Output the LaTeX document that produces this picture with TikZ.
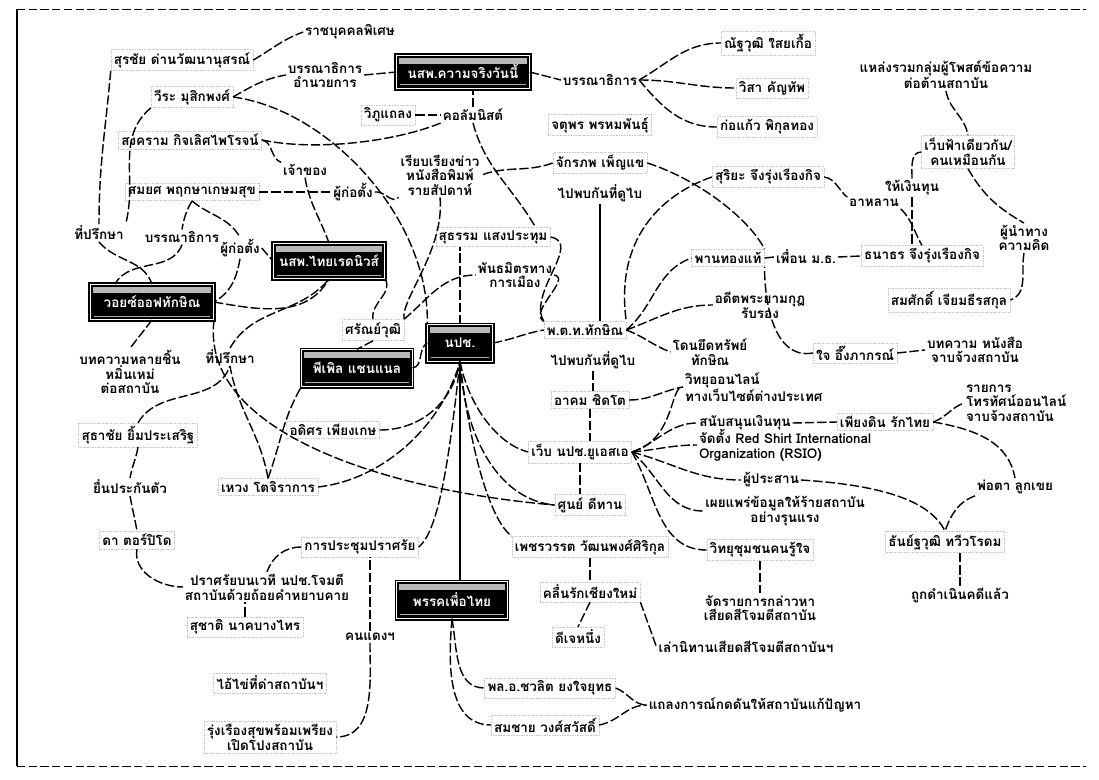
\documentclass[tikz,border=0pt]{standalone}
\usepackage{fontspec}
\setmainfont[Script=Thai]{Loma}
\usetikzlibrary{calc}
\newcommand{\thfont}{\fontsize{11.5pt}{12.5pt}\selectfont\bfseries}
\tikzstyle{person} = [draw=gray!45, densely dotted, inner sep=2.5pt,
    font=\thfont, align=center]
\tikzstyle{rel} = [inner sep=1.5pt, font=\thfont, align=center]
\tikzstyle{media} = [fill=black, text=white, draw=white, line width=0.9pt,
    font=\thfont, inner sep=2pt, text depth=1pt, preaction={draw=black, line width=4pt},
    path picture={\fill[gray!55] ([shift={(2pt,-2pt)}]path picture bounding box.north west)
      rectangle ([shift={(-2pt,-7pt)}]path picture bounding box.north east);
      \draw[gray!60, line width=0.8pt] ([shift={(3pt,3pt)}]path picture bounding box.south west)
      -- ([shift={(-3pt,3pt)}]path picture bounding box.south east);}]
\tikzstyle{line} = [draw, line width=1.2pt, dash pattern=on 8pt off 2.5pt]
\tikzstyle{sline} = [draw, line width=1.2pt]

\begin{document}
\begin{tikzpicture}[x=0.03cm, y=0.03cm]
  \useasboundingbox (0,0) rectangle (1099,-779);
  % frame
  \draw[line width=0.7pt, dash pattern=on 7pt off 3pt] (17,-9) -- (1086,-9);
  \draw[line width=0.9pt] (17,-9) -- (17,-766);
  \draw[line width=0.7pt, dash pattern=on 7pt off 3pt] (17,-766) -- (1086,-766);

  % Place nodes
  \node [media, minimum width=113pt, minimum height=28pt] (kwamjing) at (463,-72) {นสพ.ความจริงวันนี้};
  \node [media, minimum width=95pt, minimum height=30pt] (rednews) at (329,-261) {นสพ.ไทยเรดนิวส์};
  \node [media, minimum width=105pt, minimum height=30pt] (voice) at (152,-302) {วอยซ์ออฟทักษิณ};
  \node [media, minimum width=94pt, minimum height=31pt] (people) at (357,-368) {พีเพิล แชนแนล};
  \node [media, minimum width=55pt, minimum height=31pt] (udd) at (460,-343) {นปช.};
  \node [media, minimum width=94pt, minimum height=31pt] (pheu) at (452,-600) {พรรคเพื่อไทย};

  % left side
  \node [person] (surachai) at (182,-60) {สุรชัย ด่านวัฒนานุสรณ์};
  \node [person] (veera) at (192,-97) {วีระ มุสิกพงศ์};
  \node [person] (songkram) at (190,-140) {สงคราม กิจเลิศไพโรจน์};
  \node [person] (somyot) at (192,-192) {สมยศ พฤกษาเกษมสุข};
  \node [rel] (advisor1) at (99,-233) {ที่ปรึกษา};
  \node [rel] (editor2) at (182,-237) {บรรณาธิการ};
  \node [rel] (founder2) at (240,-248) {ผู้ก่อตั้ง};
  \node [rel] (articles) at (130,-372) {บทความหลายชิ้น\\หมิ่นเหม่\\ต่อสถาบัน};
  \node [rel] (advisor2) at (230,-357) {ที่ปรึกษา};
  \node [person] (suthachai) at (138,-435) {สุธาชัย ยิ้มประเสริฐ};
  \node [rel] (bail) at (130,-487) {ยื่นประกันตัว};
  \node [person] (da) at (137,-540) {ดา ตอร์ปิโด};
  \node [person] (weng) at (268,-487) {เหวง โตจิราการ};
  \node [person] (adisorn) at (333,-430) {อดิศร เพียงเกษ};
  \node [person] (pichai) at (373,-330) {ศรัณย์วุฒิ};

  % top
  \node [rel] (ratcha) at (350,-32) {ราชบุคคลพิเศษ};
  \node [rel] (chief) at (325,-75) {บรรณาธิการ\\อำนวยการ};
  \node [person] (vipu) at (388,-115) {วิภูแถลง};
  \node [rel] (columnist) at (473,-115) {คอลัมนิสต์};
  \node [rel] (owner) at (305,-170) {เจ้าของ};
  \node [rel] (founder1) at (353,-192) {ผู้ก่อตั้ง};
  \node [rel] (rewrite) at (440,-175) {เรียบเรียงข่าว\\หนังสือพิมพ์\\รายสัปดาห์};
  \node [person] (sutham) at (493,-237) {สุธรรม แสงประทุม};
  \node [rel] (ally) at (515,-275) {พันธมิตรทาง\\การเมือง};
  \node [rel] (editor) at (600,-80) {บรรณาธิการ};
  \node [person] (nattawut) at (768,-43) {ณัฐวุฒิ ใสยเกื้อ};
  \node [person] (wisa) at (772,-88) {วิสา คัญทัพ};
  \node [person] (korkaew) at (767,-127) {ก่อแก้ว พิกุลทอง};
  \node [person] (jatuporn) at (600,-125) {จตุพร พรหมพันธุ์};
  \node [person] (jakrapob) at (600,-163) {จักรภพ เพ็ญแข};
  \node [rel] (dubai1) at (600,-193) {ไปพบกันที่ดูไบ};
  \node [person] (suriya) at (768,-177) {สุริยะ จึงรุ่งเรืองกิจ};

  % top right
  \node [rel] (rcb) at (946,-75) {แหล่งรวมกลุ่มผู้โพสต์ข้อความ\\ต่อต้านสถาบัน};
  \node [person] (fa) at (968,-152) {เว็บฟ้าเดียวกัน/\\คนเหมือนกัน};
  \node [rel] (fund) at (912,-188) {ให้เงินทุน};
  \node [rel] (unclenephew) at (874,-203) {อาหลาน};
  \node [rel] (thinker) at (1024,-238) {ผู้นำทาง\\ความคิด};
  \node [person] (thanathorn) at (922,-256) {ธนาธร จึงรุ่งเรืองกิจ};
  \node [rel] (friend) at (806,-257) {เพื่อน ม.ธ.};
  \node [person] (panthongtae) at (728,-258) {พานทองแท้};
  \node [rel] (certify) at (760,-305) {อดีตพระยามกุฎ\\รับรอง};
  \node [rel] (seized) at (710,-352) {โดนยึดทรัพย์\\ทักษิณ};
  \node [person] (somsak) at (949,-300) {สมศักดิ์ เจียมธีรสกุล};

  % middle
  \node [person] (thaksin) at (585,-330) {พ.ต.ท.ทักษิณ};
  \node [rel] (dubai2) at (593,-360) {ไปพบกันที่ดูไบ};
  \node [person] (akom) at (590,-400) {อาคม ชิดโต};
  \node [rel, anchor=west, align=left] (online) at (683,-387) {วิทยุออนไลน์\\ทางเว็บไซต์ต่างประเทศ};
  \node [person] (jai) at (855,-353) {ใจ อึ๊งภากรณ์};
  \node [rel] (article) at (975,-350) {บทความ หนังสือ\\จาบจ้วงสถาบัน};
  \node [person] (ten) at (580,-452) {เว็บ นปช.ยูเอสเอ};
  \node [rel] (support) at (745,-423) {สนับสนุนเงินทุน};
  \node [rel, anchor=west, align=left] (rsio) at (697,-445) {จัดตั้ง Red Shirt International\\Organization (RSIO)};
  \node [rel] (coord) at (771,-480) {ผู้ประสาน};
  \node [rel] (spread) at (785,-511) {เผยแพร่ข้อมูลให้ร้ายสถาบัน\\อย่างรุนแรง};
  \node [person] (kasem) at (885,-422) {เพียงดิน รักไทย};
  \node [rel, anchor=west, align=left] (tvonline) at (964,-403) {รายการ\\โทรทัศน์ออนไลน์\\จาบจ้วงสถาบัน};
  \node [rel] (inlaw) at (1015,-487) {พ่อตา ลูกเขย};
  \node [person] (brperson) at (945,-542) {ธันย์ฐวุฒิ ทวีวโรดม};
  \node [rel] (convicted) at (960,-595) {ถูกดำเนินคดีแล้ว};
  \node [person] (sunai) at (590,-505) {ศูนย์ ดีทาน};
  \node [person] (radiocomm) at (760,-550) {วิทยุชุมชนคนรู้ใจ};
  \node [rel] (program) at (760,-608) {จัดรายการกล่าวหา\\เสียดสีโจมตีสถาบัน};

  % bottom
  \node [person] (yaowa) at (590,-547) {เพชรวรรต วัฒนพงศ์ศิริกุล};
  \node [person] (klun) at (590,-592) {คลื่นรักเชียงใหม่};
  \node [person] (dj) at (578,-637) {ดีเจหนึ่ง};
  \node [rel] (fable) at (746,-647) {เล่านิทานเสียดสีโจมตีสถาบันฯ};
  \node [person] (chavalit) at (550,-688) {พล.อ.ชวลิต ยงใจยุทธ};
  \node [person] (somchai) at (545,-725) {สมชาย วงศ์สวัสดิ์};
  \node [rel] (statement) at (755,-705) {แถลงการณ์กดดันให้สถาบันแก้ปัญหา};
  \node [person] (rally) at (360,-547) {การประชุมปราศรัย};
  \node [rel] (speech) at (267,-587) {ปราศรัยบนเวที นปช.โจมตี\\สถาบันด้วยถ้อยคำหยาบคาย};
  \node [person] (suchart) at (245,-627) {สุชาติ นาคบางไทร};
  \node [rel] (daeng) at (370,-637) {คนแดงฯ};
  \node [person] (n34) at (270,-683) {ไอ้ไข่ที่ด่าสถาบันฯ};
  \node [person] (n35) at (270,-737) {รุ่งเรืองสุขพร้อมเพรียง\\เปิดโปงสถาบัน};

  % connectors, left
  \path [line] (surachai.east) to[out=30,in=200] (ratcha.west);
  \path [line] (surachai.south west) to[out=-95,in=90] (advisor1.north);
  \path [line] (veera.south west) to[out=220,in=75] (advisor1.north east);
  \path [line] (veera.east) to[out=30,in=190] (chief.west);
  \path [line] (veera.east) .. controls (330,-110) and (430,-220) .. (udd.north west);
  \path [line] (songkram.east) to[out=-10,in=160] (owner.north west);
  \path [line] (songkram.east) .. controls (320,-152) and (400,-140) .. (columnist.south west);
  \path [line] (somyot.east) -- (founder1.west);
  \path [line] (somyot.south) to[out=-120,in=80] (editor2.north);
  \path [line] (somyot.south) to[out=-40,in=120] (founder2.north);
  \path [line] (advisor1.south) to[out=-50,in=110] (voice.north);
  \path [line] (editor2.south) to[out=-110,in=60] ($(voice.north west)+(25,0)$);
  \path [line] (founder2.east) -- (rednews.west);
  \path [line] (founder2.south) to[out=-100,in=30] (voice.east);
  \path [line] (voice.east) to[out=-10,in=-120] (rednews.south);
  \path [line] (advisor2.north) to[out=60,in=-130] (rednews.south);
  \path [line] (voice.south) -- (articles.north);
  \path [line] (voice.south east) .. controls (200,-430) and (380,-490) .. (sunai.west);
  \path [line] (suthachai.north) to[out=60,in=-110] (advisor2.south);
  \path [line] (weng.north) to[out=100,in=-80] (advisor2.south);
  \path [line] (weng.north) to[out=70,in=-120] (people.south west);
  \path [line] (weng.east) .. controls (380,-480) and (440,-430) .. (udd.south);
  \path [line] (adisorn.east) to[out=0,in=-100] (udd.south);
  \path [line] (suthachai.south) to[out=-100,in=80] (bail.north);
  \path [line] (bail.south) to[out=-80,in=100] (da.north);

  % connectors, top
  \path [line] (chief.east) -- (kwamjing.west);
  \path [line] (kwamjing.east) -- (editor.west);
  \path [line] (editor.east) to[out=30,in=180] (nattawut.west);
  \path [line] (editor.east) to[out=0,in=180] (wisa.west);
  \path [line] (editor.east) to[out=-50,in=180] (korkaew.west);
  \path [line] (columnist.north) -- (columnist.north |- kwamjing.south);
  \path [line] (vipu.east) -- (columnist.west);
  \path [line] (owner.south) to[out=-80,in=110] (rednews.north);
  \path [line] (founder1.east) to[out=10,in=230] (rewrite.south west);
  \path [line] (rewrite.south) .. controls (445,-250) and (400,-300) .. (pichai.north east);
  \path [line] (rednews.south east) to[out=-60,in=100] (pichai.north);
  \path [line] (pichai.south) -- (people.north);
  \path [line] (pichai.north east) to[out=40,in=180] (ally.west);
  \path [line] (people.east) to[out=10,in=-150] (udd.west);
  \path [line] (udd.north) -- (udd.north |- sutham.south);
  \path [line] (columnist.south) to[out=-75,in=120] ($(sutham.north east)+(-15,0)$);
  \path [line] (jakrapob.west) to[out=200,in=20] (rewrite.east);
  \path [line] (ally.east) to[out=-10,in=150] (thaksin.north west);
  \path [line] (sutham.east) to[out=-10,in=120] (thaksin.north west);
  \path [sline] (dubai1.south) -- (dubai1.south |- thaksin.north);
  \path [line] (jakrapob.east) .. controls (700,-180) and (750,-220) .. (panthongtae.north east);
  \path [line] (suriya.west) .. controls (660,-195) and (615,-240) .. (thaksin.north east);
  \path [line] (udd.east) to[out=10,in=190] (thaksin.west);

  % connectors, right
  \path [line] (thaksin.east) to[out=40,in=200] (panthongtae.west);
  \path [line] (thaksin.east) to[out=20,in=180] (certify.west);
  \path [line] (thaksin.east) to[out=-20,in=160] (seized.west);
  \path [line] (panthongtae.east) -- (friend.west);
  \path [line] (friend.east) -- (thanathorn.west);
  \path [line] (suriya.east) to[out=-10,in=140] (unclenephew.north west);
  \path [line] (unclenephew.south east) to[out=-45,in=120] (thanathorn.north);
  \path [line] (fund.south) -- (fund.south |- thanathorn.north);
  \path [line] (fund.north) to[out=90,in=180] (fa.west);
  \path [line] (rcb.south) to[out=-80,in=100] (fa.north);
  \path [line] (fa.south) to[out=-60,in=150] (thinker.north);
  \path [line] (thinker.south) to[out=-100,in=20] (somsak.east);
  \path [line] (jai.east) -- (article.west);
  \path [line] (jai.west) to[out=190,in=-90] (panthongtae.south east);
  \path [line] (dubai2.south) -- (dubai2.south |- akom.north);
  \path [line] (akom.south) -- (akom.south |- ten.north);
  \path [line] (ten.south) -- (ten.south |- sunai.north);
  \path [line] (akom.east) to[out=0,in=190] (online.west);
  \path [line] (ten.east) .. controls (675,-440) and (670,-385) .. (online.west);
  \path [line] (ten.east) to[out=20,in=180] (support.west);
  \path [line] (ten.east) to[out=5,in=180] (rsio.west);
  \path [line] (ten.east) to[out=-15,in=180] (coord.west);
  \path [line] (ten.east) to[out=-40,in=180] (spread.west);
  \path [line] (ten.east) to[out=-60,in=180] (radiocomm.west);
  \path [line] (udd.south) .. controls (470,-410) and (500,-445) .. (ten.west);
  \path [line] (udd.south) .. controls (465,-440) and (500,-500) .. (sunai.west);
  \path [line] (support.east) -- (kasem.west);
  \path [line] (kasem.east) to[out=20,in=200] (tvonline.west);
  \path [line] (kasem.east) to[out=-10,in=100] (inlaw.north);
  \path [line] (inlaw.south west) to[out=200,in=70] (brperson.north);
  \path [line] (coord.east) .. controls (880,-485) and (930,-500) .. (brperson.north);
  \path [line] (convicted.north |- brperson.south) -- (convicted.north);
  \path [line] (radiocomm.south) -- (program.north);

  % connectors, bottom
  \path [sline] (udd.south) -- (udd.south |- pheu.north);
  \path [line] (udd.south) .. controls (450,-450) and (440,-530) .. (rally.east);
  \path [line] (udd.south) .. controls (470,-450) and (490,-520) .. (yaowa.north west);
  \path [line] (yaowa.south) -- (klun.north);
  \path [line] (klun.south) -- (dj.north);
  \path [line] (klun.south east) -- (fable.west);
  \path [line] (pheu.south) to[out=-80,in=180] (chavalit.west);
  \path [line] (pheu.south) to[out=-95,in=180] (somchai.west);
  \path [line] (chavalit.east) to[out=-20,in=180] (statement.west);
  \path [line] (somchai.east) to[out=10,in=180] (statement.west);
  \path [line] (rally.west) to[out=180,in=70] (speech.north);
  \path [line] (daeng.north) -- (daeng.north |- rally.south);
  \path [line] (daeng.south) to[out=-90,in=0] (n35.east);
  \path [line] (suchart.north) -- (suchart.north |- speech.south);
  \path [line] (da.south) to[out=-100,in=180] (speech.west);
\end{tikzpicture}
\end{document}
